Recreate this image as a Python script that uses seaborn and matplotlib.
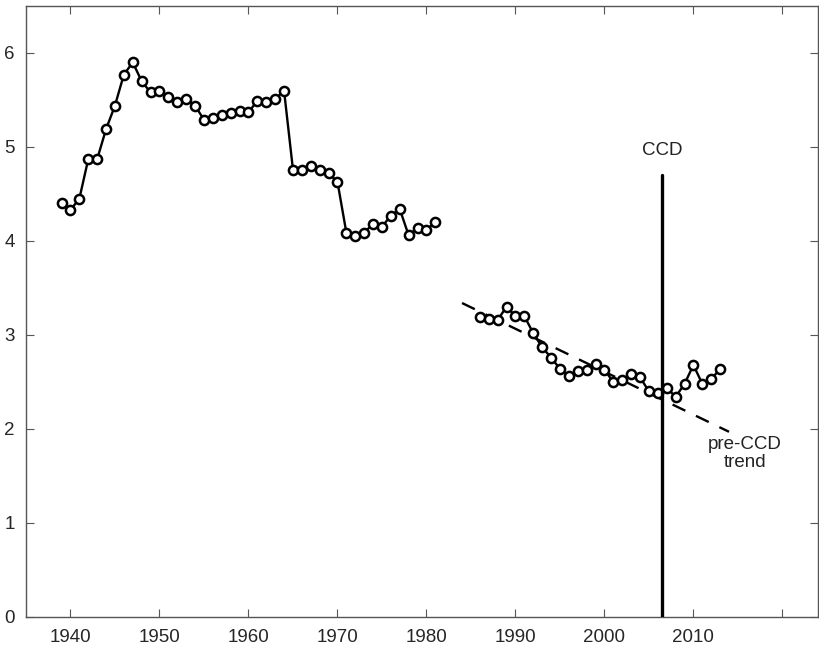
import matplotlib
matplotlib.use("Agg")
import matplotlib.pyplot as plt
import seaborn as sns
import pandas as pd

# Annual series, first period
years_early = list(range(1939, 1982))
values_early = [4.40, 4.33, 4.45, 4.87, 4.87, 5.19, 5.44, 5.77, 5.90, 5.70,
                5.58, 5.60, 5.53, 5.48, 5.51, 5.44, 5.29, 5.31, 5.34, 5.36,
                5.38, 5.37, 5.49, 5.48, 5.51, 5.60, 4.76, 4.75, 4.80, 4.75,
                4.72, 4.63, 4.09, 4.05, 4.09, 4.18, 4.15, 4.27, 4.34, 4.06,
                4.14, 4.12, 4.20]

# Annual series, second period
years_late = list(range(1986, 2014))
values_late = [3.19, 3.17, 3.16, 3.30, 3.20, 3.20, 3.02, 2.87, 2.76, 2.64,
               2.56, 2.62, 2.63, 2.69, 2.63, 2.50, 2.52, 2.59, 2.55, 2.40,
               2.38, 2.44, 2.34, 2.48, 2.68, 2.48, 2.53, 2.64]

# Pre-CCD linear trend (end points)
trend_years = [1984, 2014]
trend_values = [3.34, 1.97]

# CCD onset marker
ccd_year = 2006.5
ccd_top = 4.7

x_ticks = [1940, 1950, 1960, 1970, 1980, 1990, 2000, 2010, 2020]
x_tick_labels = ["1940", "1950", "1960", "1970", "1980", "1990", "2000", "2010", ""]
y_ticks = [0, 1, 2, 3, 4, 5, 6]

sns.set_theme(style="white")
plt.rcParams["font.family"] = ["Liberation Sans", "DejaVu Sans"]

fig = plt.figure(figsize=(8.19, 6.5), dpi=100)
ax = fig.add_axes([0.0317, 0.0508, 0.9671, 0.94])

df_early = pd.DataFrame({"year": years_early, "value": values_early})
df_late = pd.DataFrame({"year": years_late, "value": values_late})
df_trend = pd.DataFrame({"year": trend_years, "value": trend_values})

# Trend line sits underneath the observations
sns.lineplot(data=df_trend, x="year", y="value", ax=ax, color="black",
             linewidth=1.7, dashes=False, linestyle=(0, (6, 5)), zorder=2)

marker_style = dict(marker="o", markersize=6.6, markerfacecolor="white",
                    markeredgecolor="black", markeredgewidth=1.8,
                    color="black", linewidth=1.7, zorder=3)
sns.lineplot(data=df_early, x="year", y="value", ax=ax, **marker_style)
sns.lineplot(data=df_late, x="year", y="value", ax=ax, **marker_style)

# Vertical CCD line
ax.plot([ccd_year, ccd_year], [0, ccd_top], color="black", linewidth=2.4, zorder=4)
ax.text(ccd_year, 4.96, "CCD", ha="center", va="center", fontsize=13.5, color="#222222")
ax.text(2015.8, 1.74, "pre-CCD\ntrend", ha="center", va="center", fontsize=13.5,
        color="#222222", linespacing=1.1)

ax.set_xlim(1935, 2024)
ax.set_ylim(0, 6.5)
ax.set_xticks(x_ticks)
ax.set_xticklabels(x_tick_labels)
ax.set_yticks(y_ticks)
ax.set_xlabel("")
ax.set_ylabel("")

for side in ["left", "right", "top", "bottom"]:
    ax.spines[side].set_visible(True)
    ax.spines[side].set_color("#555555")
    ax.spines[side].set_linewidth(1.0)

ax.tick_params(axis="both", which="major", direction="in", length=6, width=0.8,
               color="#555555", labelsize=13.5, labelcolor="#262626",
               top=True, right=True, bottom=True, left=True)
ax.tick_params(axis="x", pad=9)
ax.tick_params(axis="y", pad=8)

fig.savefig("out.png", dpi=100)
